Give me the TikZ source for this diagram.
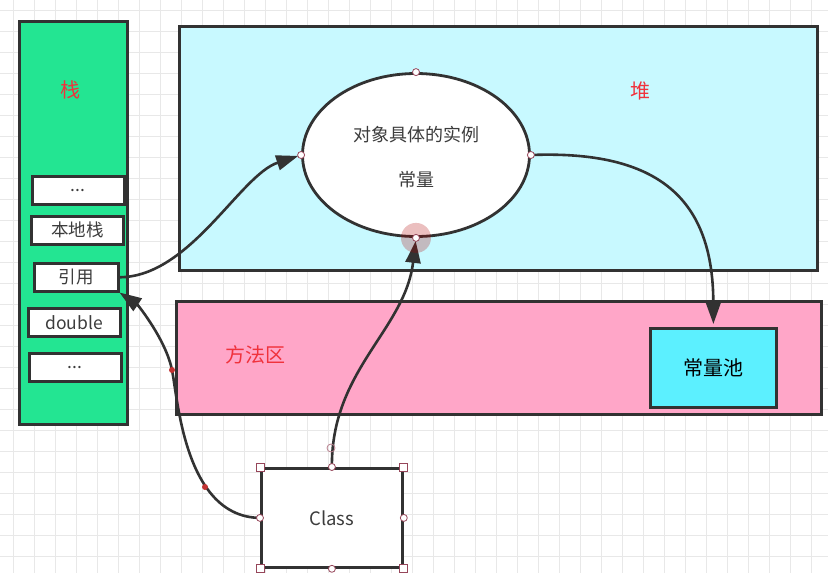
\documentclass[tikz,border=0pt]{standalone}
\usepackage{fontspec}
\setmainfont{Noto Sans CJK SC}
\usetikzlibrary{shapes.geometric, arrows.meta, calc}

\definecolor{gridgray}{RGB}{232,232,232}
\definecolor{darkline}{RGB}{50,50,50}
\definecolor{stackgreen}{RGB}{35,229,146}
\definecolor{heapcyan}{RGB}{200,249,255}
\definecolor{methodpink}{RGB}{255,166,200}
\definecolor{poolcyan}{RGB}{92,240,255}
\definecolor{labelred}{RGB}{240,50,60}
\definecolor{textgray}{RGB}{60,60,60}
\definecolor{handlered}{RGB}{150,70,90}

\tikzset{
  area/.style={draw=darkline, line width=2.8pt, inner sep=0pt, anchor=north west},
  slot/.style={draw=darkline, line width=2.5pt, fill=white, inner sep=0pt, anchor=north west, text=textgray, font=\fontsize{17.5}{20}\selectfont},
  redlabel/.style={text=labelred, font=\fontsize{20}{23}\selectfont},
  link/.style={draw=darkline, line width=2.6pt, -{Triangle[length=22pt, width=15pt]}, shorten >=3pt},
  handle/.style={draw=handlered, fill=white, line width=0.8pt},
}

\begin{document}
\begin{tikzpicture}[x=1pt, y=-1pt]
\useasboundingbox (0,0) rectangle (828,573);
\fill[white] (0,0) rectangle (828,573);
\foreach \x in {13,34,...,828} \draw[gridgray, line width=0.8pt] (\x,0) -- (\x,573);
\foreach \y in {10,31,...,573} \draw[gridgray, line width=0.8pt] (0,\y) -- (828,\y);

\node[area, fill=heapcyan, minimum width=638pt, minimum height=244pt] (heap) at (178,25) {};
\node[redlabel] (heaplabel) at (640,91) {堆};
\node[area, fill=methodpink, minimum width=645pt, minimum height=113pt] (method) at (175,300) {};
\node[redlabel] (methodlabel) at (255,355) {方法区};
\node[area, fill=stackgreen, minimum width=108pt, minimum height=403pt] (stack) at (18,20) {};
\node[redlabel] (stacklabel) at (70,90) {栈};

\node[slot, minimum width=92pt, minimum height=28pt] (top) at (31,175) {...};
\node[slot, minimum width=92pt, minimum height=28pt] (native) at (30,215) {本地栈};
\node[slot, minimum width=84pt, minimum height=28pt] (ref) at (33,262) {引用};
\node[slot, minimum width=92pt, minimum height=28pt] (double) at (27,307) {double};
\node[slot, minimum width=92pt, minimum height=28pt] (bottom) at (28,352) {...};

\node[draw=darkline, line width=2.8pt, ellipse, fill=white, inner sep=0pt, minimum width=227pt, minimum height=163pt] (obj) at (416,155) {};
\node[text=textgray, font=\fontsize{18}{21}\selectfont] (objtext) at (416,135) {对象具体的实例};
\node[text=textgray, font=\fontsize{18}{21}\selectfont] (consttext) at (416,180) {常量};

\node[area, fill=poolcyan, minimum width=126pt, minimum height=79pt, font=\fontsize{20}{23}\selectfont] (pool) at (649,327) {常量池};
\node[draw=darkline, line width=2.8pt, fill=white, inner sep=0pt, anchor=north west, minimum width=141pt, minimum height=99pt, text=textgray, font=\fontsize{18.5}{21}\selectfont] (class) at (260,467) {Class};

\coordinate (bend) at (172,370);
\draw[link] (ref.east) .. controls (190,277) and (240,175) .. (obj.west);
\draw[link] (obj.east) .. controls (660,150) and (713,200) .. (pool.north);
\draw[link, shorten >=0pt] (class.west) .. controls (185,517) and (178,400) .. (bend) .. controls (166,340) and (138,305) .. (ref.south east);
\draw[link] (class.north) .. controls (331,370) and (405,330) .. (obj.south);

% handles
\fill[red!70!black, opacity=0.25] (obj.south) circle (15pt);
\foreach \a in {north, west, east, south} \draw[handle] (obj.\a) circle (3.5pt);
\foreach \a in {north east, north west, south east, south west} \draw[handle] ($(class.\a)+(-4,-4)$) rectangle ++(8,8);
\foreach \a in {north, west, east, south} \draw[handle] (class.\a) circle (3.5pt);
\draw[handlered!70, line width=0.8pt] (331,448) circle (4pt);
\fill[red!70!black!80] (bend) circle (3pt);
\fill[red!70!black!80] (205,487) circle (3pt);
\end{tikzpicture}
\end{document}
